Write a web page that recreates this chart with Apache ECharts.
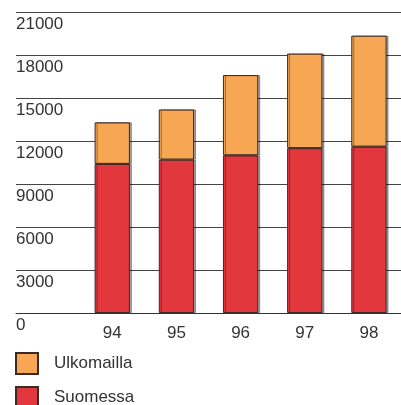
<!DOCTYPE html>
<html><head><meta charset="utf-8">
<script src="https://cdn.jsdelivr.net/npm/echarts@6/dist/echarts.min.js"></script>
<style>html,body{margin:0;padding:0;background:#fff}#c{width:401px;height:405px}</style>
</head><body><div id="c"></div>
<script>
const categories = ['', '94', '95', '96', '97', '98'];
const suomessa = [null, 10400, 10700, 11000, 11500, 11600];
const ulkomailla = [null, 2900, 3500, 5600, 6600, 7750];
const yTicks = { min: 0, max: 21000, interval: 3000 };
const legendNames = ['Ulkomailla', 'Suomessa'];

const chart = echarts.init(document.getElementById('c'), null, { renderer: 'canvas' });
const font = 'Liberation Sans, Arial, sans-serif';
const barStyle = (color) => ({
  color: color, borderColor: '#3a2a26', borderWidth: 1,
  shadowColor: 'rgba(0,0,0,0.35)', shadowOffsetX: 2, shadowOffsetY: 0, shadowBlur: 0
});
const legendBase = {
  orient: 'vertical', left: 15, padding: 0, itemWidth: 22, itemHeight: 21, icon: 'rect',
  textStyle: { fontSize: 17, color: '#333', padding: [0, 0, 0, 11], fontFamily: font }
};
chart.setOption({
  animation: false,
  textStyle: { fontFamily: font },
  grid: { left: 16, right: 0, top: 12, bottom: 92 },
  legend: [
    Object.assign({}, legendBase, { top: 352, data: [legendNames[0]] }),
    Object.assign({}, legendBase, { top: 386, data: [legendNames[1]] })
  ],
  xAxis: {
    type: 'category', data: categories,
    axisLine: { lineStyle: { color: '#333', width: 1 } },
    axisTick: { show: false },
    axisLabel: { fontSize: 17, color: '#333', margin: 12, interval: 0 }
  },
  yAxis: {
    type: 'value', min: yTicks.min, max: yTicks.max, interval: yTicks.interval,
    axisLine: { show: false }, axisTick: { show: false },
    splitLine: { lineStyle: { color: '#444', width: 1 } },
    axisLabel: { inside: true, margin: 0, fontSize: 17, color: '#333', verticalAlign: 'top', padding: [4, 0, 0, 0],
      formatter: (v) => String(v) }
  },
  series: [
    { name: 'Suomessa', type: 'bar', stack: 't', data: suomessa, barWidth: '55%', itemStyle: barStyle('#E3373E') },
    { name: 'Ulkomailla', type: 'bar', stack: 't', data: ulkomailla, barWidth: '55%', itemStyle: barStyle('#F7A653') }
  ]
});
</script></body></html>
